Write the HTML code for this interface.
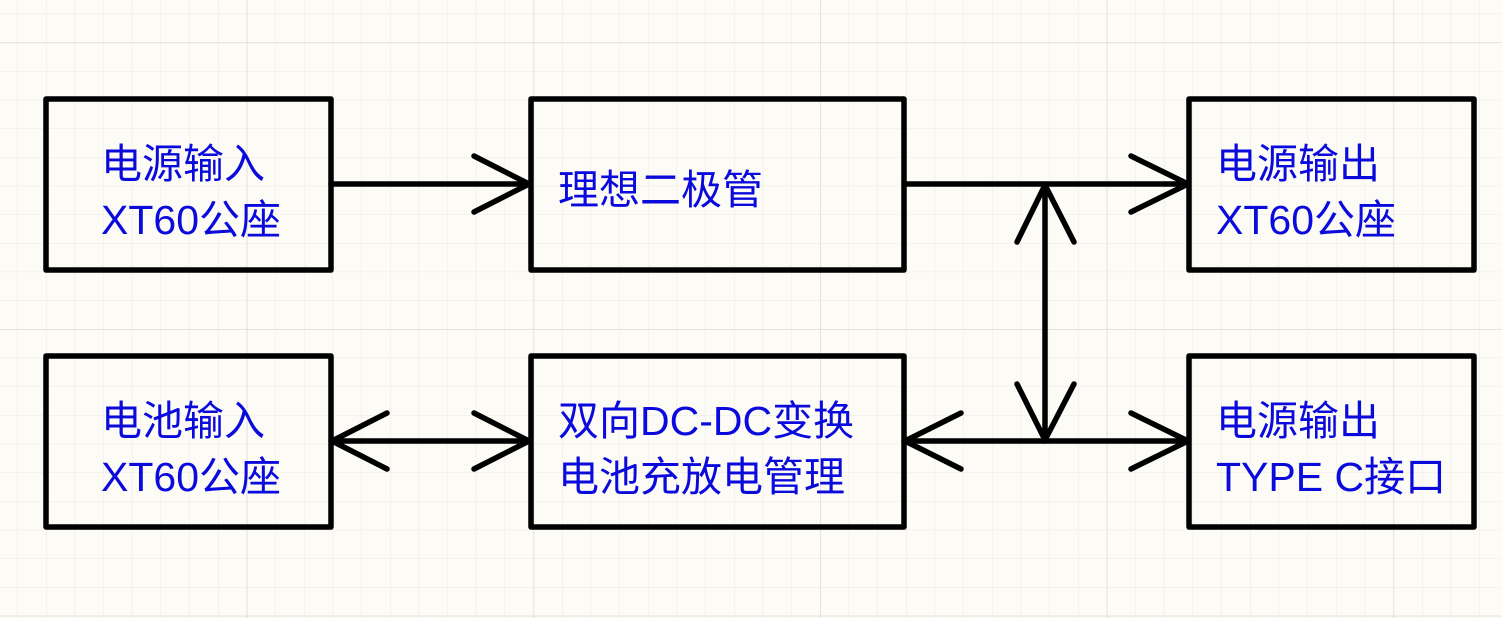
<!DOCTYPE html>
<html><head><meta charset="utf-8"><style>
html,body{margin:0;padding:0;background:#fdfbf6;}
svg{display:block}
text{font-family:"Liberation Sans","Noto Sans CJK SC",sans-serif;font-size:41px;fill:#0a0adc;}
</style></head><body>
<svg width="1502" height="618" viewBox="0 0 1502 618" xmlns="http://www.w3.org/2000/svg">
<defs>
<pattern id="minor" x="17.3" y="13.7" width="28.667" height="28.667" patternUnits="userSpaceOnUse">
<path d="M0 0H28.667M0 0V28.667" stroke="#ece9e2" stroke-width="1" fill="none"/>
</pattern>
<pattern id="major" x="246.7" y="42.3" width="286.67" height="286.67" patternUnits="userSpaceOnUse">
<path d="M0 0H286.67M0 0V286.67" stroke="#dedbd3" stroke-width="1.5" fill="none"/>
</pattern>
</defs>
<rect width="1502" height="618" fill="#fdfbf6"/>
<rect width="1502" height="618" fill="url(#minor)"/>
<rect width="1502" height="618" fill="url(#major)"/>
<g fill="none" stroke="#000" stroke-width="5.5" stroke-linecap="round" stroke-linejoin="round">
<rect x="46" y="99" width="285" height="171"/>
<rect x="531" y="99" width="373" height="171"/>
<rect x="1189" y="99" width="285" height="171"/>
<rect x="46" y="356" width="285" height="171"/>
<rect x="531" y="356" width="373" height="171"/>
<rect x="1189" y="356" width="285" height="171"/>
<path d="M331 184H529M474 156L529 184L474 212"/>
<path d="M904 184H1188M1131 156L1188 184L1131 212"/>
<path d="M904 441H1188M1131 413L1188 441L1131 469"/>
<path d="M961 413L905 441L961 469"/>
<path d="M331 441H529M474 413L529 441L474 469M387 413L332 441L387 469"/>
<path d="M1045 184V441M1017 242L1045 185L1074 242M1017 384L1045 440L1074 384"/>
</g>
<text x="101" y="178">电源输入</text>
<text x="101" y="234">XT60公座</text>
<text x="558" y="204">理想二极管</text>
<text x="1216" y="178">电源输出</text>
<text x="1216" y="234">XT60公座</text>
<text x="101" y="435">电池输入</text>
<text x="101" y="491">XT60公座</text>
<text x="558" y="435">双向DC-DC变换</text>
<text x="558" y="491">电池充放电管理</text>
<text x="1216" y="435">电源输出</text>
<text x="1216" y="491">TYPE C接口</text>
</svg>
</body></html>
